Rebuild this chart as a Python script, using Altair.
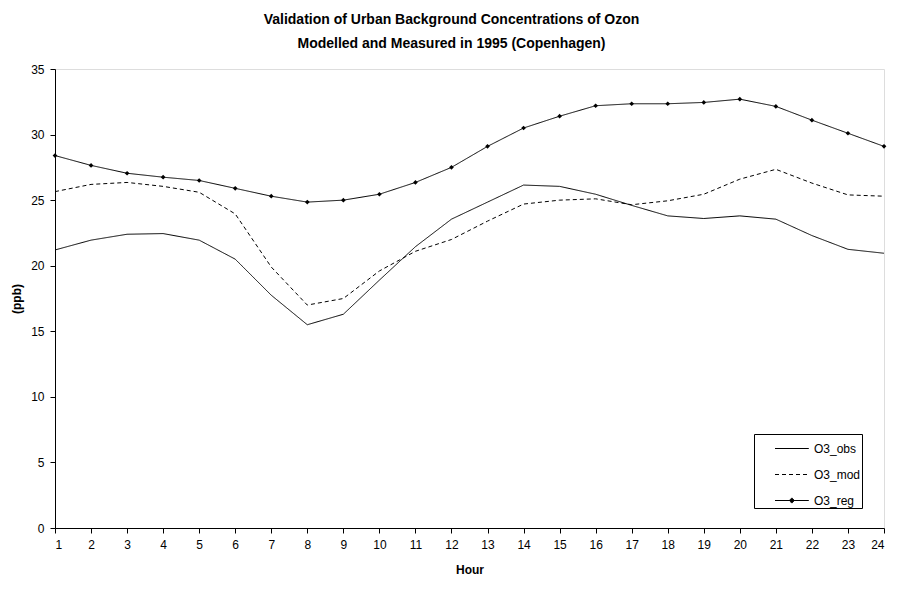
import altair as alt
import pandas as pd

hours = list(range(1, 25))
o3_obs = [21.2, 21.95, 22.4, 22.45, 21.95, 20.5, 17.75, 15.5, 16.3, 18.9, 21.45, 23.55,
          24.85, 26.15, 26.05, 25.45, 24.6, 23.8, 23.6, 23.8, 23.55, 22.3, 21.25, 20.95]
o3_mod = [25.65, 26.2, 26.35, 26.05, 25.6, 23.95, 19.9, 17.0, 17.5, 19.6, 21.1, 22.0,
          23.4, 24.7, 25.0, 25.1, 24.65, 24.95, 25.45, 26.6, 27.35, 26.3, 25.4, 25.3]
o3_reg = [28.4, 27.65, 27.05, 26.75, 26.5, 25.9, 25.3, 24.85, 25.0, 25.45, 26.35, 27.5,
          29.1, 30.5, 31.4, 32.2, 32.35, 32.35, 32.45, 32.7, 32.15, 31.1, 30.1, 29.1]
series_names = ["O3_obs", "O3_mod", "O3_reg"]

rows = []
for name, vals in zip(series_names, [o3_obs, o3_mod, o3_reg]):
    for h, v in zip(hours, vals):
        rows.append({"Hour": h, "Value": v, "Series": name})
df = pd.DataFrame(rows)

FONT = "Liberation Sans"

x_enc = alt.X("Hour:Q", scale=alt.Scale(domain=[1, 24], nice=False, zero=False),
              axis=alt.Axis(values=hours, title="Hour", titleFontWeight="bold",
                            titleFontSize=12, titlePadding=14, labelFontSize=12,
                            labelPadding=6, tickSize=5, grid=False, domainColor="black",
                            tickColor="black", labelColor="black", titleColor="black",
                            labelFont=FONT, titleFont=FONT))
y_enc = alt.Y("Value:Q", scale=alt.Scale(domain=[0, 35], nice=False),
              axis=alt.Axis(values=list(range(0, 36, 5)), title="(ppb)", titleFontWeight="bold",
                            titleFontSize=12, titlePadding=7, labelFontSize=12,
                            labelPadding=6, tickSize=5, grid=False, domainColor="black",
                            tickColor="black", labelColor="black", titleColor="black",
                            labelFont=FONT, titleFont=FONT))

line_path = "M0.5,0H3.1"
reg_path = "M0.5,0H3.1M1.8,-0.2L2.0,0L1.8,0.2L1.6,0Z"

lines = alt.Chart(df).mark_line(color="black", strokeWidth=1).encode(
    x=x_enc,
    y=y_enc,
    strokeDash=alt.StrokeDash(
        "Series:N",
        scale=alt.Scale(domain=series_names, range=[[1, 0], [4, 3], [1, 0]]),
        sort=series_names,
        legend=alt.Legend(
            title=None, orient="none", legendX=699, legendY=365,
            strokeColor="black", fillColor="white", padding=1,
            symbolType=alt.ExprRef(
                expr=f"datum.label == 'O3_reg' ? '{reg_path}' : '{line_path}'"),
            symbolSize=676, symbolStrokeColor="black", symbolStrokeWidth=1,
            symbolFillColor="black", symbolOpacity=1,
            labelFontSize=12, labelFont=FONT, labelColor="black",
            rowPadding=6, labelOffset=32,
        ),
    ),
    detail="Series:N",
)

points = alt.Chart(df[df["Series"] == "O3_reg"]).mark_point(
    shape="diamond", filled=True, color="black", size=22, opacity=1
).encode(x=x_enc, y=y_enc)

chart = alt.layer(lines, points).properties(
    width=829,
    height=459,
    title=alt.Title(
        ["Validation of Urban Background Concentrations of Ozon",
         "Modelled and Measured in 1995 (Copenhagen)"],
        font=FONT, fontSize=14, fontWeight="bold", color="black",
        lineHeight=24, offset=12, dx=-18, anchor="middle",
    ),
    autosize=alt.AutoSizeParams(type="none"),
    padding={"left": 47, "top": 61, "right": 10, "bottom": 55},
).configure_view(stroke="black", strokeWidth=1).configure(background="white")

chart.save("out.html", embed_options={"renderer": "svg", "actions": False})
